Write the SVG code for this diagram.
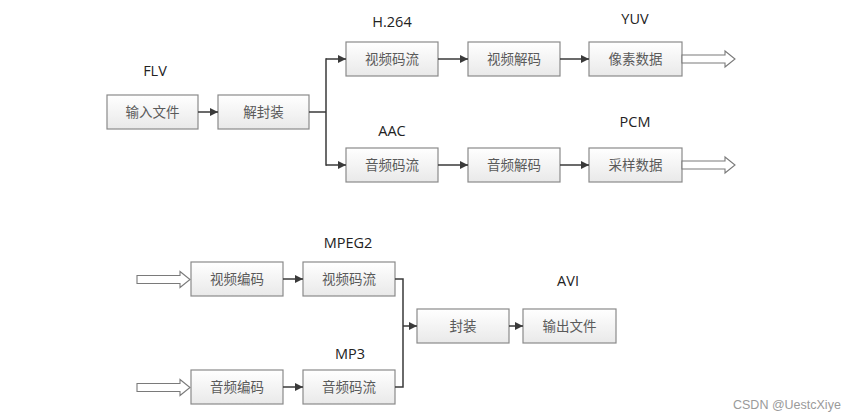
<svg xmlns="http://www.w3.org/2000/svg" width="866" height="420" viewBox="0 0 866 420">
<defs>
<linearGradient id="g" x1="0" y1="0" x2="0" y2="1">
<stop offset="0" stop-color="#ffffff"/>
<stop offset="1" stop-color="#e9e9e9"/>
</linearGradient>
<marker id="ah" markerWidth="10" markerHeight="10" refX="8" refY="4.5" orient="auto" markerUnits="userSpaceOnUse">
<path d="M0,0.5 L8,4.5 L0,8.5 Z" fill="#3a3a3a"/>
</marker>
<style>
.box{fill:url(#g);stroke:#8a8a8a;stroke-width:1.2}
.t{font-family:"Noto Sans CJK SC","Noto Sans CJK TC",sans-serif;font-size:13.5px;fill:#5a5a5a;text-anchor:middle}
.lb{font-family:"Open Sans","Liberation Sans",sans-serif;font-size:14.5px;fill:#222;text-anchor:middle}
.c{fill:none;stroke:#3a3a3a;stroke-width:1.5}
.ca{fill:none;stroke:#3a3a3a;stroke-width:1.5;marker-end:url(#ah)}
.ho{fill:#fff;stroke:#7a7a7a;stroke-width:1.1}
.wm{font-family:"Liberation Sans",Arial,sans-serif;font-size:12.5px;fill:#9a9a9a}
</style>
</defs>
<rect width="866" height="420" fill="#fff"/>

<g id="labels">
<text class="lb" x="155" y="76">FLV</text>
<text class="lb" x="392" y="27">H.264</text>
<text class="lb" x="635" y="24">YUV</text>
<text class="lb" x="392" y="136">AAC</text>
<text class="lb" x="635" y="127">PCM</text>
<text class="lb" x="348" y="248">MPEG2</text>
<text class="lb" x="350" y="359">MP3</text>
<text class="lb" x="568" y="286">AVI</text>
</g>

<g id="n1"><rect class="box" x="107" y="95" width="91" height="34"/><text class="t" x="152.5" y="117">输入文件</text></g>
<g id="n2"><rect class="box" x="218" y="95" width="91" height="34"/><text class="t" x="263.5" y="117">解封装</text></g>
<g id="n3"><rect class="box" x="346" y="42" width="92" height="34"/><text class="t" x="392" y="64">视频码流</text></g>
<g id="n4"><rect class="box" x="468" y="42" width="92" height="34"/><text class="t" x="514" y="64">视频解码</text></g>
<g id="n5"><rect class="box" x="589" y="42" width="93" height="34"/><text class="t" x="635.5" y="64">像素数据</text></g>
<g id="n6"><rect class="box" x="346" y="148" width="92" height="34"/><text class="t" x="392" y="170">音频码流</text></g>
<g id="n7"><rect class="box" x="468" y="148" width="92" height="34"/><text class="t" x="514" y="170">音频解码</text></g>
<g id="n8"><rect class="box" x="589" y="148" width="93" height="34"/><text class="t" x="635.5" y="170">采样数据</text></g>
<g id="n9"><rect class="box" x="191" y="262" width="92" height="34"/><text class="t" x="237" y="284">视频编码</text></g>
<g id="n10"><rect class="box" x="303" y="262" width="92" height="34"/><text class="t" x="349" y="284">视频码流</text></g>
<g id="n11"><rect class="box" x="191" y="370" width="92" height="34"/><text class="t" x="237" y="392">音频编码</text></g>
<g id="n12"><rect class="box" x="303" y="370" width="92" height="34"/><text class="t" x="349" y="392">音频码流</text></g>
<g id="n13"><rect class="box" x="417" y="309" width="92" height="34"/><text class="t" x="463" y="331">封装</text></g>
<g id="n14"><rect class="box" x="523" y="309" width="93" height="34"/><text class="t" x="569.5" y="331">输出文件</text></g>

<g id="connectors">
<line class="ca" x1="198" y1="112" x2="218" y2="112"/>
<polyline class="c" points="309,112 326,112"/>
<line class="c" x1="326" y1="58.25" x2="326" y2="165.75"/>
<polyline class="ca" points="326,59 346,59"/>
<polyline class="ca" points="326,165 346,165"/>
<line class="ca" x1="438" y1="59" x2="468" y2="59"/>
<line class="ca" x1="560" y1="59" x2="589" y2="59"/>
<line class="ca" x1="438" y1="165" x2="468" y2="165"/>
<line class="ca" x1="560" y1="165" x2="589" y2="165"/>
<line class="ca" x1="283" y1="279" x2="303" y2="279"/>
<line class="ca" x1="283" y1="387" x2="303" y2="387"/>
<polyline class="c" points="395,279 403,279 403,387 395,387"/>
<line class="ca" x1="403" y1="326" x2="417" y2="326"/>
<line class="ca" x1="509" y1="326" x2="523" y2="326"/>
<polygon class="ho" points="682,55 725,55 725,51 735,59 725,67 725,63 682,63"/>
<polygon class="ho" points="682,161 725,161 725,157 735,165 725,173 725,169 682,169"/>
<polygon class="ho" points="137,275.5 180,275.5 180,271.5 190,279.5 180,287.5 180,283.5 137,283.5"/>
<polygon class="ho" points="137,383.5 180,383.5 180,379.5 190,387.5 180,395.5 180,391.5 137,391.5"/>
</g>

<text class="wm" x="733" y="409">CSDN @UestcXiye</text>
</svg>
